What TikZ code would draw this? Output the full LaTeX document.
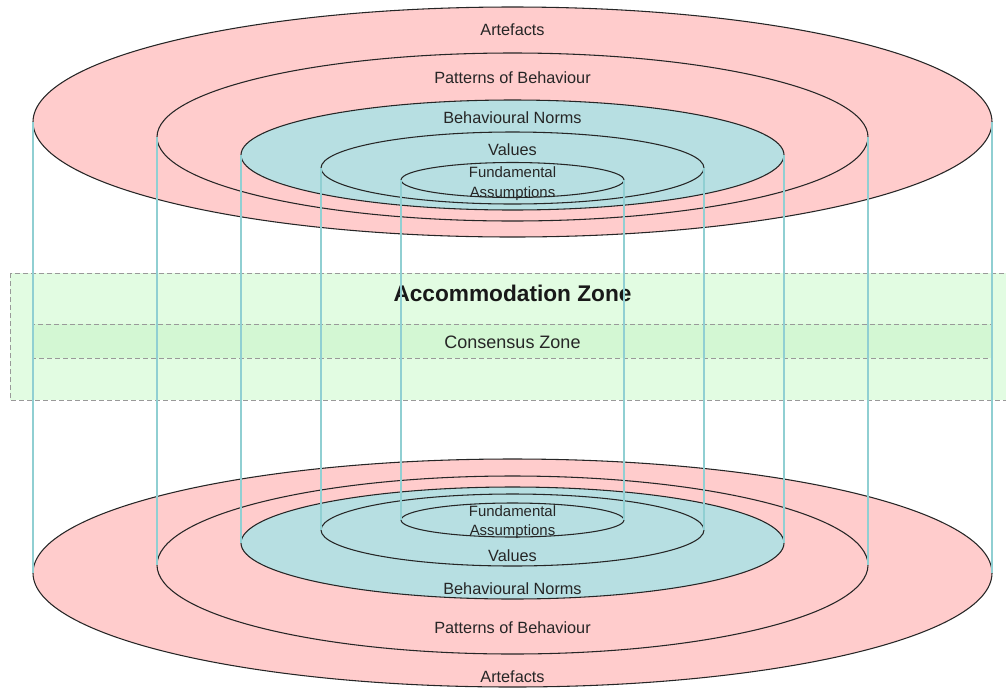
\documentclass[tikz,border=0pt]{standalone}
\usepackage{fontspec}
\setmainfont{Liberation Sans}
\definecolor{bandpink}{HTML}{FFCCCC}
\definecolor{bandteal}{HTML}{B7DFE2}
\definecolor{riserteal}{HTML}{90CFD2}
\definecolor{accgreen}{HTML}{E2FCE2}
\definecolor{consgreen}{HTML}{D3F7D3}
\definecolor{zoneedge}{HTML}{999999}
\begin{document}
\begin{tikzpicture}[x=0.75pt,y=-0.75pt,
  layer/.style={draw=black!85, line width=0.8pt},
  outerband/.style={layer, fill=bandpink},
  innerband/.style={layer, fill=bandteal},
  riser/.style={draw=riserteal, line width=0.9pt},
  zonebox/.style={draw=zoneedge, dash pattern=on 3.6pt off 2.4pt, line width=0.6pt},
  lbl/.style={font=\fontsize{12.2}{14}\selectfont, text=black!85, inner sep=0pt, anchor=base},
  smalllbl/.style={font=\fontsize{11.2}{13}\selectfont, text=black!85, inner sep=0pt, anchor=base},
  bigzone/.style={font=\fontsize{17}{20}\selectfont\bfseries, text=black!90, inner sep=0pt, anchor=base},
  zonelbl/.style={font=\fontsize{13.5}{16}\selectfont, text=black!85, inner sep=0pt, anchor=base}
]
\useasboundingbox (0,0) rectangle (1006,690);

% ---- tolerance zones across the middle
\path[zonebox, fill=accgreen] (10,273) rectangle (1012,400);
\path[zonebox, fill=consgreen] (33,324) rectangle (992,358);
\node[bigzone] (acc) at (512.5,301.5) {Accommodation Zone};
\node[zonelbl] (cons) at (512.5,348.5) {Consensus Zone};

% ---- upper stack of culture layers
\path[outerband] (512.5,122) ellipse [x radius=479.5, y radius=115];
\path[outerband] (512.5,137) ellipse [x radius=355.5, y radius=84];
\path[innerband] (512.5,155) ellipse [x radius=271.5, y radius=55];
\path[innerband] (512.5,168) ellipse [x radius=191.5, y radius=36];
\path[innerband] (512.5,180) ellipse [x radius=111.5, y radius=17.5];

\node[lbl] (tart) at (512.5,35.8) {Artefacts};
\node[lbl] (tpat) at (512.5,83.8) {Patterns of Behaviour};
\node[lbl] (tnor) at (512.5,123.8) {Behavioural Norms};
\node[lbl] (tval) at (512.5,155.8) {Values};
\node[smalllbl] (tfun) at (512.5,177.3) {Fundamental};
\node[smalllbl] (tass) at (512.5,197.3) {Assumptions};

% ---- lower stack of culture layers
\path[outerband] (512.5,573) ellipse [x radius=479.5, y radius=114];
\path[outerband] (512.5,565) ellipse [x radius=355.5, y radius=89];
\path[innerband] (512.5,543) ellipse [x radius=271.5, y radius=56];
\path[innerband] (512.5,530) ellipse [x radius=191.5, y radius=36];
\path[innerband] (512.5,520) ellipse [x radius=111.5, y radius=17];

\node[smalllbl] (bfun) at (512.5,516.3) {Fundamental};
\node[smalllbl] (bass) at (512.5,535.3) {Assumptions};
\node[lbl] (bval) at (512.5,561.8) {Values};
\node[lbl] (bnor) at (512.5,594.8) {Behavioural Norms};
\node[lbl] (bpat) at (512.5,633.8) {Patterns of Behaviour};
\node[lbl] (bart) at (512.5,682.8) {Artefacts};

% ---- side points of every layer
\coordinate (t1w) at (33,122);   \coordinate (t1e) at (992,122);
\coordinate (t2w) at (157,137);  \coordinate (t2e) at (868,137);
\coordinate (t3w) at (241,155);  \coordinate (t3e) at (784,155);
\coordinate (t4w) at (321,168);  \coordinate (t4e) at (704,168);
\coordinate (t5w) at (401,180);  \coordinate (t5e) at (624,180);
\coordinate (b1w) at (33,573);   \coordinate (b1e) at (992,573);
\coordinate (b2w) at (157,565);  \coordinate (b2e) at (868,565);
\coordinate (b3w) at (241,543);  \coordinate (b3e) at (784,543);
\coordinate (b4w) at (321,530);  \coordinate (b4e) at (704,530);
\coordinate (b5w) at (401,520);  \coordinate (b5e) at (624,520);

% ---- cylinder walls joining each layer top to bottom
\foreach \k in {1,...,5} {
  \draw[riser] (t\k w) -- (b\k w);
  \draw[riser] (t\k e) -- (b\k e);
}
\end{tikzpicture}
\end{document}
